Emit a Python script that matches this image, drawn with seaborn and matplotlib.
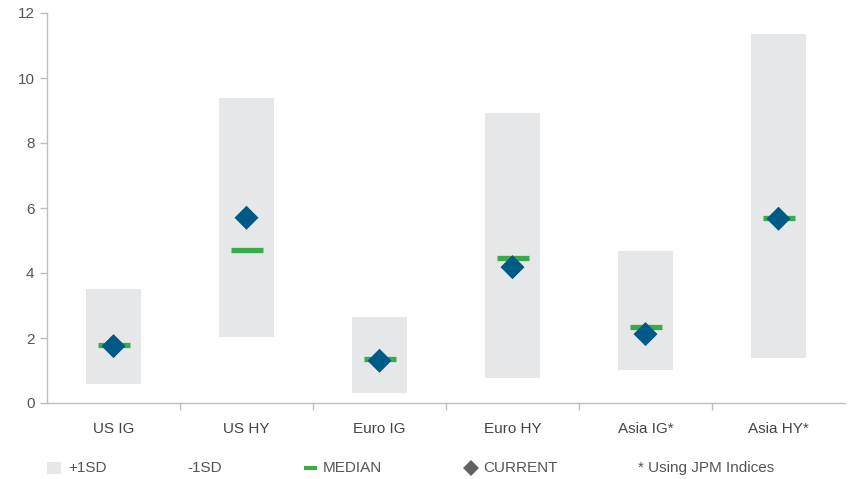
import matplotlib
matplotlib.use("Agg")
import matplotlib.pyplot as plt
from matplotlib.patches import Rectangle
from matplotlib.lines import Line2D
import seaborn as sns
import pandas as pd

# Spread ranges per market: +1SD / -1SD band, median and current level
categories = ["US IG", "US HY", "Euro IG", "Euro HY", "Asia IG*", "Asia HY*"]
plus_1sd = [3.50, 9.38, 2.65, 8.92, 4.68, 11.35]
minus_1sd = [0.58, 2.02, 0.31, 0.77, 1.02, 1.38]
median = [1.79, 4.71, 1.34, 4.46, 2.34, 5.69]
current = [1.75, 5.70, 1.30, 4.18, 2.12, 5.67]
y_ticks = [0, 2, 4, 6, 8, 10, 12]

df = pd.DataFrame({
    "market": categories,
    "upper": plus_1sd,
    "lower": minus_1sd,
    "median": median,
    "current": current,
})
df["band"] = df["upper"] - df["lower"]

sns.set_theme(style="white")
plt.rcParams["font.family"] = ["Liberation Sans", "DejaVu Sans"]

GRAY_BAND = "#E6E7E8"
GREEN = "#3BAA4A"
BLUE = "#005A87"
AXIS = "#BFBFBF"
TEXT = "#555555"

W, H = 851, 479
fig = plt.figure(figsize=(W / 100, H / 100), dpi=100)
ax = fig.add_axes([47 / W, 76 / H, 798 / W, 390 / H])

# Floating band from -1SD to +1SD
sns.barplot(data=df, x="market", y="band", bottom=df["lower"].values,
            color=GRAY_BAND, width=0.41, saturation=1, ax=ax,
            linewidth=0, order=categories)

# Median dashes
sns.scatterplot(data=df, x="market", y="median", marker="_", s=500,
                color=GREEN, linewidth=3.8, ax=ax, zorder=3)

# Current level diamonds
sns.scatterplot(data=df, x="market", y="current", marker="D", s=150,
                color=BLUE, edgecolor="none", ax=ax, zorder=4)

ax.set_xlim(-0.5, len(categories) - 0.5)
ax.set_ylim(0, 12)
ax.set_yticks(y_ticks)
ax.set_xlabel("")
ax.set_ylabel("")

for side in ["top", "right"]:
    ax.spines[side].set_visible(False)
for side in ["left", "bottom"]:
    ax.spines[side].set_color(AXIS)
    ax.spines[side].set_linewidth(1.0)

ax.tick_params(axis="y", which="major", left=True, length=5, width=1,
               color=AXIS, labelsize=11, labelcolor=TEXT, pad=4)
ax.tick_params(axis="x", which="major", bottom=False, labelsize=11,
               labelcolor="#444444", pad=8)
ax.set_xticks([i + 0.5 for i in range(len(categories) - 1)], minor=True)
ax.tick_params(axis="x", which="minor", bottom=True, length=5, width=1,
               color=AXIS)

# Legend row along the bottom
fy = 1 - 468 / H
fig.add_artist(Rectangle((47 / W, 1 - 474 / H), 14 / W, 12 / H,
                         transform=fig.transFigure, color=GRAY_BAND, lw=0))
fig.text(68 / W, fy, "+1SD", fontsize=11, color=TEXT, va="center")
fig.text(187 / W, fy, "-1SD", fontsize=11, color=TEXT, va="center")
fig.add_artist(Line2D([304 / W, 317 / W], [fy, fy],
                      transform=fig.transFigure, color=GREEN, lw=3.0,
                      solid_capstyle="butt"))
fig.text(323 / W, fy, "MEDIAN", fontsize=11, color=TEXT, va="center")
fig.add_artist(Line2D([471 / W], [fy], transform=fig.transFigure,
                      marker="D", markersize=8.3, color="#616161",
                      markeredgewidth=0, linestyle="none"))
fig.text(483 / W, fy, "CURRENT", fontsize=11, color=TEXT, va="center")
fig.text(638 / W, fy, "* Using JPM Indices", fontsize=11, color=TEXT,
         va="center")

fig.savefig("out.png", dpi=100, facecolor="white")
